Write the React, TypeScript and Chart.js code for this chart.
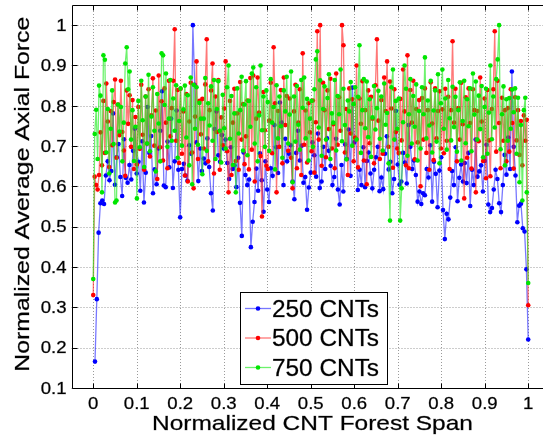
import React, { useEffect, useRef } from "react";
import { Chart, registerables } from "chart.js";

Chart.register(...registerables);

const seriesNames = ["250 CNTs", "500 CNTs", "750 CNTs"];
const seriesColors = ["#0000ff", "#ff0000", "#00e600"];
const lineColors = ["rgba(30,30,255,0.6)", "rgba(255,30,30,0.6)", "rgba(30,235,30,0.65)"];

const xTicks = [0, 0.1, 0.2, 0.3, 0.4, 0.5, 0.6, 0.7, 0.8, 0.9, 1];
const yTicks = [0.1, 0.2, 0.3, 0.4, 0.5, 0.6, 0.7, 0.8, 0.9, 1];

const xStart250 = 0.004;
const xStart500 = 0;
const xStart750 = 0;

const values250 = [
  0.165, 0.32, 0.485, 0.558, 0.565, 0.556, 0.627, 0.662, 0.615, 0.638, 0.781, 0.604,
  0.672, 0.705, 0.623, 0.576, 0.717, 0.621, 0.609, 0.653, 0.617, 0.688, 0.743, 0.632,
  0.661, 0.589, 0.712, 0.56, 0.634, 0.797, 0.683, 0.725, 0.583, 0.642, 0.605, 0.694,
  0.738, 0.836, 0.602, 0.598, 0.711, 0.647, 0.768, 0.596, 0.662, 0.788, 0.641, 0.523,
  0.643, 0.656, 0.627, 0.614, 0.702, 0.681, 1.0, 0.852, 0.709, 0.613, 0.694, 0.638,
  0.669, 0.657, 0.719, 0.648, 0.583, 0.54, 0.742, 0.786, 0.677, 0.661, 0.727, 0.694,
  0.716, 0.658, 0.618, 0.697, 0.643, 0.652, 0.598, 0.671, 0.559, 0.477, 0.684, 0.628,
  0.603, 0.617, 0.449, 0.512, 0.561, 0.644, 0.589, 0.682, 0.615, 0.537, 0.662, 0.592,
  0.561, 0.645, 0.626, 0.752, 0.697, 0.633, 0.808, 0.758, 0.603, 0.718, 0.662, 0.681,
  0.702, 0.612, 0.568, 0.683, 0.738, 0.664, 0.701, 0.609, 0.623, 0.542, 0.597, 0.634,
  0.709, 0.677, 0.624, 0.731, 0.596, 0.612, 0.698, 0.643, 0.719, 0.688, 0.651, 0.603,
  0.623, 0.718, 0.592, 0.555, 0.653, 0.587, 0.704, 0.668, 0.741, 0.626, 0.845, 0.709,
  0.718, 0.591, 0.641, 0.603, 0.697, 0.598, 0.663, 0.684, 0.632, 0.595, 0.641, 0.672,
  0.698, 0.588, 0.622, 0.593, 0.681, 0.724, 0.642, 0.661, 0.583, 0.618, 0.787, 0.654,
  0.604, 0.612, 0.683, 0.659, 0.607, 0.752, 0.698, 0.643, 0.664, 0.628, 0.562, 0.587,
  0.556, 0.583, 0.578, 0.643, 0.622, 0.702, 0.562, 0.661, 0.631, 0.548, 0.639, 0.672,
  0.541, 0.469, 0.532, 0.518, 0.572, 0.638, 0.603, 0.697, 0.563, 0.621, 0.654, 0.612,
  0.658, 0.608, 0.683, 0.551, 0.641, 0.603, 0.716, 0.624, 0.637, 0.652, 0.587, 0.663,
  0.703, 0.555, 0.536, 0.546, 0.592, 0.641, 0.618, 0.558, 0.536, 0.603, 0.678, 0.629,
  0.721, 0.643, 0.885, 0.698, 0.627, 0.511, 0.552, 0.557, 0.496, 0.488, 0.394, 0.22,
];

const values500 = [
  0.33, 0.624, 0.603, 0.592, 0.628, 0.734, 0.652, 0.812, 0.683, 0.855, 0.761, 0.648, 0.787, 0.702, 0.809,
  0.865, 0.671, 0.803, 0.727, 0.862, 0.735, 0.689, 0.626, 0.838, 0.755, 0.826, 0.698, 0.814, 0.643, 0.772,
  0.654, 0.797, 0.693, 0.852, 0.728, 0.641, 0.823, 0.706, 0.841, 0.674, 0.776, 0.868, 0.701, 0.788, 0.618,
  0.875, 0.697, 0.811, 0.664, 0.843, 0.758, 0.645, 0.862, 0.724, 0.794, 0.862, 0.99, 0.713, 0.839, 0.658,
  0.842, 0.681, 0.786, 0.627, 0.829, 0.612, 0.761, 0.857, 0.684, 0.595, 0.773, 0.91, 0.668, 0.812, 0.729,
  0.817, 0.694, 0.853, 0.965, 0.662, 0.789, 0.838, 0.905, 0.632, 0.823, 0.735, 0.864, 0.641, 0.771, 0.702,
  0.793, 0.91, 0.687, 0.585, 0.812, 0.628, 0.758, 0.842, 0.663, 0.781, 0.641, 0.859, 0.716, 0.804, 0.655,
  0.724, 0.813, 0.642, 0.869, 0.691, 0.875, 0.612, 0.768, 0.87, 0.783, 0.675, 0.525, 0.834, 0.739, 0.651,
  0.643, 0.763, 0.857, 0.682, 0.945, 0.806, 0.585, 0.787, 0.698, 0.839, 0.657, 0.87, 0.752, 0.824, 0.688,
  0.818, 0.671, 0.595, 0.786, 0.852, 0.645, 0.758, 0.841, 0.628, 0.93, 0.703, 0.788, 0.659, 0.806, 0.734,
  0.687, 0.813, 0.634, 0.759, 0.985, 0.716, 1.0, 0.651, 0.857, 0.789, 0.672, 0.838, 0.742, 0.867, 0.694,
  0.754, 0.645, 0.88, 0.703, 0.821, 0.738, 1.0, 0.95, 0.684, 0.792, 0.628, 0.843, 0.731, 0.816, 0.662,
  0.721, 0.9, 0.647, 0.818, 0.755, 0.861, 0.664, 0.789, 0.605, 0.838, 0.707, 0.822, 0.768, 0.657, 0.851,
  0.965, 0.763, 0.668, 0.814, 0.681, 0.87, 0.787, 0.91, 0.698, 0.86, 0.793, 0.646, 0.841, 0.735, 0.694,
  0.683, 0.817, 0.714, 0.89, 0.786, 0.652, 0.925, 0.645, 0.839, 0.758, 0.862, 0.667, 0.792, 0.709, 0.814,
  0.6, 0.819, 0.716, 0.843, 0.683, 0.789, 0.641, 0.858, 0.756, 0.665, 0.843, 0.719, 0.787, 0.836, 0.694,
  0.791, 0.682, 0.842, 0.713, 0.822, 0.643, 0.789, 0.96, 0.758, 0.842, 0.662, 0.794, 0.716, 0.857, 0.754,
  0.57, 0.821, 0.671, 0.843, 0.757, 0.644, 0.841, 0.789, 0.585, 0.787, 0.712, 0.87, 0.761, 0.663, 0.818,
  0.62, 0.839, 0.714, 0.625, 0.792, 0.841, 0.985, 0.686, 0.862, 0.757, 0.645, 0.82, 0.713, 0.789, 0.662,
  0.794, 0.686, 0.841, 0.757, 0.644, 0.821, 0.714, 0.789, 0.678, 0.762, 0.652, 0.776, 0.713, 0.765, 0.305,
];

const values750 = [
  0.37, 0.73, 0.79, 0.668, 0.85, 0.825, 0.585, 0.925, 0.914, 0.684, 0.792, 0.632, 0.743, 0.838, 0.705,
  0.56, 0.565, 0.803, 0.736, 0.797, 0.662, 0.758, 0.905, 0.945, 0.841, 0.885, 0.716, 0.789, 0.663, 0.748,
  0.57, 0.812, 0.697, 0.862, 0.764, 0.648, 0.823, 0.706, 0.877, 0.687, 0.773, 0.846, 0.738, 0.637, 0.829,
  0.756, 0.662, 0.93, 0.925, 0.802, 0.88, 0.698, 0.768, 0.864, 0.713, 0.818, 0.738, 0.851, 0.671, 0.762,
  0.843, 0.701, 0.791, 0.85, 0.721, 0.826, 0.652, 0.87, 0.605, 0.852, 0.743, 0.846, 0.703, 0.807, 0.768,
  0.63, 0.768, 0.869, 0.688, 0.806, 0.751, 0.848, 0.713, 0.864, 0.668, 0.792, 0.861, 0.738, 0.659, 0.827,
  0.744, 0.694, 0.846, 0.9, 0.718, 0.824, 0.653, 0.781, 0.585, 0.843, 0.731, 0.789, 0.872, 0.689, 0.803,
  0.861, 0.677, 0.812, 0.748, 0.88, 0.895, 0.706, 0.846, 0.662, 0.776, 0.9, 0.739, 0.823, 0.698, 0.838,
  0.809, 0.688, 0.866, 0.758, 0.797, 0.642, 0.851, 0.719, 0.823, 0.749, 0.671, 0.838, 0.786, 0.872, 0.706,
  0.778, 0.885, 0.61, 0.823, 0.711, 0.849, 0.753, 0.691, 0.864, 0.795, 0.87, 0.719, 0.817, 0.664, 0.768,
  0.812, 0.698, 0.841, 0.915, 0.935, 0.746, 0.863, 0.676, 0.792, 0.848, 0.716, 0.819, 0.878, 0.668, 0.781,
  0.758, 0.864, 0.689, 0.824, 0.779, 0.89, 0.712, 0.842, 0.752, 0.667, 0.813, 0.786, 0.859, 0.701, 0.804,
  0.846, 0.716, 0.822, 0.95, 0.683, 0.789, 0.866, 0.744, 0.86, 0.722, 0.816, 0.673, 0.771, 0.849, 0.741,
  0.794, 0.837, 0.718, 0.823, 0.689, 0.855, 0.753, 0.782, 0.657, 0.515, 0.846, 0.89, 0.716, 0.812, 0.743,
  0.818, 0.515, 0.595, 0.759, 0.9, 0.842, 0.676, 0.779, 0.866, 0.706, 0.824, 0.748, 0.853, 0.664, 0.787,
  0.694, 0.846, 0.779, 0.92, 0.719, 0.813, 0.751, 0.862, 0.684, 0.788, 0.838, 0.711, 0.878, 0.657, 0.806,
  0.89, 0.743, 0.818, 0.691, 0.864, 0.769, 0.714, 0.847, 0.747, 0.822, 0.686, 0.789, 0.858, 0.664, 0.762,
  0.862, 0.707, 0.816, 0.749, 0.843, 0.687, 0.88, 0.778, 0.86, 0.716, 0.825, 0.742, 0.849, 0.672, 0.797,
  0.842, 0.681, 0.783, 0.9, 0.717, 0.823, 0.746, 0.866, 0.915, 1.0, 0.692, 0.779, 0.848, 0.652, 0.816,
  0.713, 0.819, 0.743, 0.84, 0.784, 0.843, 0.681, 0.82, 0.61, 0.752, 0.565, 0.789, 0.82, 0.585, 0.36,
];

const xAxisTitle = "Normalized CNT Forest Span";
const yAxisTitle = "Normalized Average Axial Force";

function toPoints(values: number[], start: number) {
  const n = values.length;
  return values.map((v, i) => ({ x: start + ((1 - start) * i) / (n - 1), y: v }));
}

function fmt(v: number) {
  if (Math.abs(v) < 1e-9) return "0";
  if (Math.abs(v - 1) < 1e-9) return "1";
  return v.toFixed(1);
}

const FONT = '"Liberation Sans", Arial, Helvetica, sans-serif';

function drawText(
  ctx: CanvasRenderingContext2D,
  text: string,
  x: number,
  y: number,
  size: number,
  sx: number,
  align: CanvasTextAlign,
  rotate = false
) {
  ctx.save();
  ctx.translate(x, y);
  if (rotate) ctx.rotate(-Math.PI / 2);
  ctx.scale(sx, 1);
  ctx.font = `${size}px ${FONT}`;
  ctx.textAlign = align;
  ctx.textBaseline = "alphabetic";
  ctx.fillStyle = "#000";
  ctx.strokeStyle = "rgba(0,0,0,0.55)";
  ctx.lineWidth = 0.45;
  ctx.fillText(text, 0, 0);
  ctx.strokeText(text, 0, 0);
  ctx.restore();
}

const gridPlugin = {
  id: "matlabGrid",
  beforeDatasetsDraw(chart: any) {
    const { ctx, chartArea: a, scales } = chart;
    ctx.save();
    ctx.strokeStyle = "#9a9a9a";
    ctx.lineWidth = 1;
    ctx.setLineDash([1, 2]);
    xTicks.forEach((t) => {
      const px = Math.round(scales.x.getPixelForValue(t)) + 0.5;
      ctx.beginPath();
      ctx.moveTo(px, a.top);
      ctx.lineTo(px, a.bottom);
      ctx.stroke();
    });
    yTicks.forEach((t) => {
      const py = Math.round(scales.y.getPixelForValue(t)) + 0.5;
      ctx.beginPath();
      ctx.moveTo(a.left, py);
      ctx.lineTo(a.right, py);
      ctx.stroke();
    });
    ctx.restore();
  },
  afterDraw(chart: any) {
    const { ctx, chartArea: a, scales } = chart;
    ctx.save();
    ctx.setLineDash([]);
    ctx.strokeStyle = "#000";
    ctx.lineWidth = 1;
    const L = Math.round(a.left) + 0.5;
    const B = Math.round(a.bottom) + 0.5;
    const T = Math.round(a.top) + 0.5;
    ctx.beginPath();
    ctx.moveTo(L, T);
    ctx.lineTo(a.right, T);
    ctx.moveTo(L, T);
    ctx.lineTo(L, B);
    ctx.lineTo(a.right, B);
    ctx.stroke();
    ctx.beginPath();
    xTicks.forEach((t) => {
      const px = Math.round(scales.x.getPixelForValue(t)) + 0.5;
      ctx.moveTo(px, B);
      ctx.lineTo(px, B - 5);
      ctx.moveTo(px, T);
      ctx.lineTo(px, T + 5);
    });
    yTicks.forEach((t) => {
      const py = Math.round(scales.y.getPixelForValue(t)) + 0.5;
      ctx.moveTo(L, py);
      ctx.lineTo(L + 5, py);
    });
    ctx.stroke();

    xTicks.forEach((t) => {
      const px = scales.x.getPixelForValue(t);
      drawText(ctx, fmt(t), px, 408.5, 16, 1.16, "center");
    });
    yTicks.forEach((t) => {
      const py = scales.y.getPixelForValue(t);
      drawText(ctx, fmt(t), 66.5, py + 5.8, 16, 1.16, "right");
    });

    drawText(ctx, xAxisTitle, 312.5, 430, 21, 1.165, "center");
    drawText(ctx, yAxisTitle, 29, 194.2, 21, 1.18, "center", true);

    const bx = 240.5, by = 292.5, bw = 147, bh = 92;
    ctx.fillStyle = "#fff";
    ctx.fillRect(bx, by, bw, bh);
    ctx.strokeStyle = "#000";
    ctx.lineWidth = 1;
    ctx.strokeRect(bx, by, bw, bh);
    const rows = [308.5, 338, 367.5];
    seriesNames.forEach((name, i) => {
      const y = rows[i];
      ctx.strokeStyle = lineColors[i];
      ctx.lineWidth = 1.3;
      ctx.beginPath();
      ctx.moveTo(245, y);
      ctx.lineTo(271, y);
      ctx.stroke();
      ctx.fillStyle = seriesColors[i];
      ctx.beginPath();
      ctx.arc(258, y, 2.3, 0, Math.PI * 2);
      ctx.fill();
      drawText(ctx, name, 272, y + 8.3, 23, 1.06, "left");
    });
    ctx.restore();
  },
};

export default function App() {
  const ref = useRef<HTMLCanvasElement | null>(null);
  useEffect(() => {
    if (!ref.current) return;
    const mk = (idx: number, values: number[], start: number, order: number) => ({
      label: seriesNames[idx],
      data: toPoints(values, start),
      borderColor: lineColors[idx],
      backgroundColor: seriesColors[idx],
      pointBackgroundColor: seriesColors[idx],
      pointBorderWidth: 0,
      pointRadius: 2.3,
      borderWidth: 1.3,
      tension: 0,
      order,
    });
    const chart = new Chart(ref.current, {
      type: "line",
      data: {
        datasets: [
          mk(0, values250, xStart250, 3),
          mk(1, values500, xStart500, 2),
          mk(2, values750, xStart750, 1),
        ],
      },
      options: {
        animation: false,
        responsive: false,
        maintainAspectRatio: false,
        devicePixelRatio: 1,
        layout: { padding: { left: 0, top: 5, right: 0, bottom: 0 } },
        plugins: { legend: { display: false }, tooltip: { enabled: false } },
        scales: {
          x: {
            type: "linear",
            min: -0.05,
            max: 1.034,
            grid: { display: false },
            border: { display: false },
            ticks: { display: false },
            afterFit: (s: any) => {
              s.height = 52.2;
            },
          },
          y: {
            type: "linear",
            min: 0.1,
            max: 1.05,
            grid: { display: false },
            border: { display: false },
            ticks: { display: false },
            afterFit: (s: any) => {
              s.width = 71.5;
            },
          },
        },
      } as any,
      plugins: [gridPlugin],
    });
    return () => chart.destroy();
  }, []);
  return (
    <div style={{ position: "absolute", left: 0, top: 0, width: 547, height: 440, background: "#fff" }}>
      <canvas ref={ref} width={547} height={440} style={{ display: "block" }} />
    </div>
  );
}
